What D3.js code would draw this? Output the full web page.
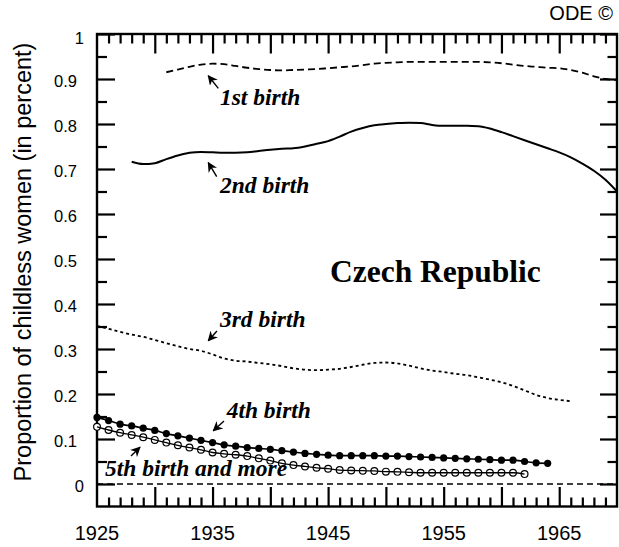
<!DOCTYPE html>
<html><head><meta charset="utf-8">
<script src="https://cdn.jsdelivr.net/npm/d3@7"></script>
<style>
html,body{margin:0;padding:0;background:#fff;}
svg{display:block;}
</style></head>
<body><svg id="chart" width="619" height="547"></svg>
<script>
// ---- data ----
const birth1Years = d3.range(1931, 1971);
const birth1Values = [0.915,0.921,0.927,0.932,0.934,0.933,0.929,0.925,0.922,0.920,
  0.919,0.920,0.921,0.922,0.924,0.926,0.928,0.931,0.934,0.936,
  0.937,0.938,0.938,0.938,0.938,0.938,0.938,0.938,0.937,0.935,
  0.932,0.929,0.927,0.925,0.924,0.920,0.914,0.906,0.900,0.898];
const birth2Years = d3.range(1928, 1971);
const birth2Values = [0.716,0.711,0.713,0.722,0.730,0.736,0.738,0.737,0.736,0.736,
  0.737,0.740,0.743,0.745,0.746,0.750,0.756,0.762,0.772,0.783,
  0.791,0.797,0.800,0.802,0.803,0.802,0.798,0.796,0.796,0.796,
  0.795,0.790,0.782,0.773,0.764,0.755,0.746,0.737,0.726,0.712,
  0.696,0.676,0.650];
const birth3Years = d3.range(1925, 1967);
const birth3Values = [0.351,0.345,0.338,0.332,0.327,0.320,0.313,0.306,0.300,0.296,
  0.288,0.279,0.274,0.272,0.269,0.266,0.262,0.257,0.254,0.253,
  0.254,0.256,0.260,0.265,0.269,0.270,0.268,0.263,0.257,0.252,
  0.249,0.245,0.242,0.237,0.232,0.226,0.218,0.208,0.198,0.191,
  0.187,0.184];
const birth4Years = d3.range(1925, 1965);
const birth4Values = [0.148,0.141,0.133,0.129,0.124,0.119,0.112,0.107,0.102,0.097,
  0.092,0.087,0.084,0.081,0.079,0.077,0.074,0.071,0.068,0.066,
  0.064,0.063,0.063,0.063,0.063,0.062,0.062,0.061,0.060,0.059,
  0.058,0.057,0.056,0.055,0.054,0.053,0.053,0.050,0.047,0.046];
const birth5Years = d3.range(1925, 1963);
const birth5Values = [0.127,0.120,0.114,0.109,0.104,0.098,0.092,0.086,0.081,0.076,
  0.070,0.067,0.065,0.062,0.057,0.052,0.046,0.042,0.039,0.036,
  0.034,0.031,0.030,0.0295,0.029,0.0275,0.027,0.026,0.025,0.025,
  0.025,0.025,0.025,0.025,0.025,0.025,0.025,0.022];
const xTickLabels = [1925, 1935, 1945, 1955, 1965];
const yTickValues = [0,0.1,0.2,0.3,0.4,0.5,0.6,0.7,0.8,0.9,1];
const yTickLabels = ["0","0.1","0.2","0.3","0.4","0.5","0.6","0.7","0.8","0.9","1"];
// annotation labels (data units: year, proportion)
const annLabels = ["1st birth","2nd birth","3rd birth","4th birth","5th birth and more"];
const annTextAt = [[1935.64,0.842],[1935.64,0.646],[1935.64,0.3496],[1936.22,0.146],[1925.69,0.0178]];
const annArrowTail = [[1935.50,0.8793],[1935.36,0.683],[1935.38,0.340],[1935.99,0.140],[1927.94,0.0622]];
const annArrowTip = [[1934.63,0.9073],[1934.63,0.714],[1934.63,0.3184],[1935.06,0.1184],[1928.72,0.0816]];
const countryLabel = "Czech Republic";
const countryAt = [1945.16, 0.4496];

// ---- chart ----
const svg = d3.select("#chart");
const L = 97, R = 617, T = 34, B = 506.5;
const x = d3.scaleLinear().domain([1925, 1970]).range([L, R]);
const y = d3.scaleLinear().domain([-0.05, 1]).range([B, T]);

const sans = "'Liberation Sans', Arial, Helvetica, sans-serif";
const serif = "'Liberation Serif', 'Times New Roman', serif";

// zero line
svg.append("line").attr("x1", L).attr("x2", R).attr("y1", y(0)).attr("y2", y(0))
  .attr("stroke", "#000").attr("stroke-width", 1.3).attr("stroke-dasharray", "6,4");

// ticks via d3 axes (inward)
const yMinor = d3.range(0.05, 1, 0.1);
const xMajor = d3.range(1930, 1970, 5);
const xMinor = d3.range(1926, 1970, 1).filter(v => v % 5 !== 0);
function clean(g) {
  g.select(".domain").remove();
  g.selectAll(".tick line").attr("stroke", "#000").attr("stroke-width", 2.2);
  g.selectAll(".tick text").remove();
}
const axes = svg.append("g").attr("class", "axes");
axes.append("g").attr("transform", `translate(${L},0)`)
  .call(d3.axisRight(y).tickValues(yTickValues).tickSize(18)).call(clean);
axes.append("g").attr("transform", `translate(${L},0)`)
  .call(d3.axisRight(y).tickValues(yMinor).tickSize(10)).call(clean);
axes.append("g").attr("transform", `translate(${R},0)`)
  .call(d3.axisLeft(y).tickValues(yTickValues).tickSize(17)).call(clean);
axes.append("g").attr("transform", `translate(${R},0)`)
  .call(d3.axisLeft(y).tickValues(yMinor).tickSize(9.5)).call(clean);
axes.append("g").attr("transform", `translate(0,${T})`)
  .call(d3.axisBottom(x).tickValues(xMajor).tickSize(19.5)).call(clean);
axes.append("g").attr("transform", `translate(0,${T})`)
  .call(d3.axisBottom(x).tickValues(xMinor).tickSize(9.5)).call(clean);
axes.append("g").attr("transform", `translate(0,${B})`)
  .call(d3.axisTop(x).tickValues(xMajor).tickSize(19.5)).call(clean);
axes.append("g").attr("transform", `translate(0,${B})`)
  .call(d3.axisTop(x).tickValues(xMinor).tickSize(9)).call(clean);

// frame
svg.append("rect").attr("x", L).attr("y", T).attr("width", R - L).attr("height", B - T)
  .attr("fill", "none").attr("stroke", "#000").attr("stroke-width", 2.4);

// y tick labels
svg.append("g").selectAll("text").data(yTickValues).join("text")
  .attr("x", d => (d === 0 || d === 1) ? L - 13 : L - 20)
  .attr("y", d => y(d) + (d === 1 ? 10 : 7.5))
  .attr("text-anchor", "end").attr("font-family", sans).attr("font-size", 16.5).attr("fill", "#000")
  .text((d, i) => yTickLabels[i]);

// x tick labels
svg.append("g").selectAll("text").data(xTickLabels).join("text")
  .attr("x", d => x(d)).attr("y", B + 33)
  .attr("text-anchor", "middle").attr("font-family", sans).attr("font-size", 20).attr("fill", "#000")
  .text(d => d3.format("d")(d));

// series
const line = d3.line().x(d => x(d[0])).y(d => y(d[1])).curve(d3.curveMonotoneX);
const zip = (a, b) => a.map((v, i) => [v, b[i]]);
const s1 = zip(birth1Years, birth1Values);
const s2 = zip(birth2Years, birth2Values);
const s3 = zip(birth3Years, birth3Values);
const s4 = zip(birth4Years, birth4Values);
const s5 = zip(birth5Years, birth5Values);

svg.append("path").datum(s1).attr("d", line).attr("fill","none").attr("stroke","#000")
  .attr("stroke-width",1.8).attr("stroke-dasharray","7,4");
svg.append("path").datum(s2).attr("d", line).attr("fill","none").attr("stroke","#000")
  .attr("stroke-width",2);
svg.append("path").datum(s3).attr("d", line).attr("fill","none").attr("stroke","#000")
  .attr("stroke-width",1.8).attr("stroke-dasharray","3,3");
svg.append("path").datum(s4).attr("d", line).attr("fill","none").attr("stroke","#000")
  .attr("stroke-width",1.7);
svg.append("g").selectAll("circle").data(s4).join("circle")
  .attr("cx", d => x(d[0])).attr("cy", d => y(d[1])).attr("r", 3.6).attr("fill","#000");
svg.append("g").selectAll("circle").data(s5).join("circle")
  .attr("cx", d => x(d[0])).attr("cy", d => y(d[1])).attr("r", 3.4).attr("fill","#fff")
  .attr("stroke","#000").attr("stroke-width",1.2);
svg.append("path").datum(s5).attr("d", line).attr("fill","none").attr("stroke","#000")
  .attr("stroke-width",1.3);

// arrowhead marker
svg.append("defs").append("marker").attr("id","arr").attr("viewBox","0 0 10 10")
  .attr("refX",9).attr("refY",5).attr("markerWidth",10).attr("markerHeight",10)
  .attr("markerUnits","userSpaceOnUse").attr("orient","auto")
  .append("path").attr("d","M0,0 L10,5 L0,10 L3,5 Z").attr("fill","#000");

// annotations
annLabels.forEach((t, i) => {
  svg.append("text").attr("x", x(annTextAt[i][0])).attr("y", y(annTextAt[i][1]))
    .attr("font-family", serif).attr("font-size", 23.5).attr("font-weight","bold")
    .attr("font-style","italic").attr("fill","#000").text(t);
  svg.append("line").attr("x1", x(annArrowTail[i][0])).attr("y1", y(annArrowTail[i][1]))
    .attr("x2", x(annArrowTip[i][0])).attr("y2", y(annArrowTip[i][1]))
    .attr("stroke","#000").attr("stroke-width",1.4).attr("marker-end","url(#arr)");
});
svg.append("text").attr("x", x(countryAt[0])).attr("y", y(countryAt[1]))
  .attr("font-family", serif).attr("font-size", 31.5).attr("font-weight","bold").attr("fill","#000")
  .text(countryLabel);

// y title
svg.append("text").attr("transform", `translate(31,262) rotate(-90)`)
  .attr("text-anchor","middle").attr("font-family", sans).attr("font-size", 23.5).attr("fill","#000")
  .text("Proportion of childless women (in percent)");

// credit
svg.append("text").attr("x", 613).attr("y", 20).attr("text-anchor","end")
  .attr("font-family", sans).attr("font-size", 20).attr("fill","#000").text("ODE ©");
</script></body></html>
